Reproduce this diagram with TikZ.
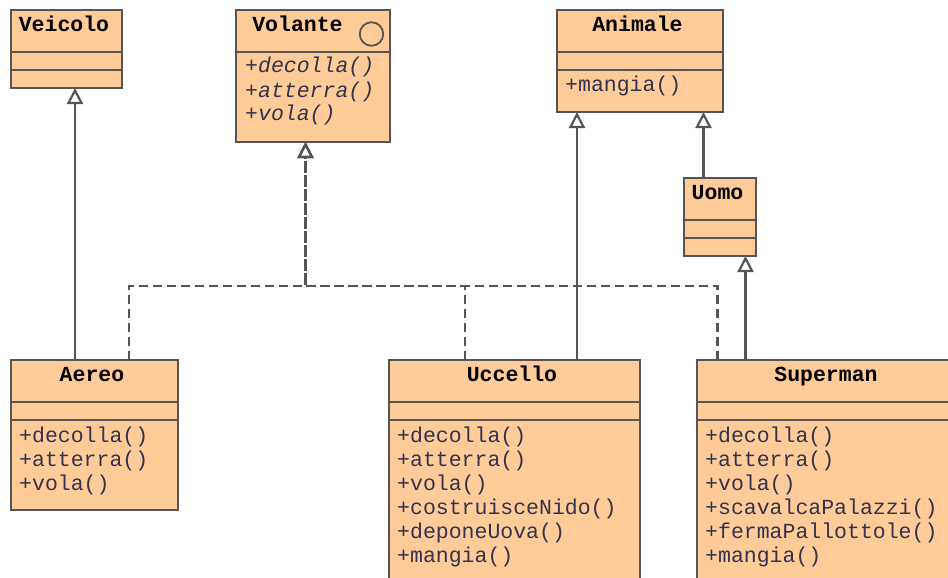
\documentclass[tikz,border=0pt]{standalone}
\usepackage{fontspec}
\setmonofont{Liberation Mono}
\usetikzlibrary{arrows.meta}
\definecolor{boxfill}{RGB}{255,204,153}
\definecolor{boxline}{RGB}{85,85,85}
\definecolor{methcol}{RGB}{51,51,77}
\newcommand\umlbox[5]{%
  \node[classbox, minimum width={(#4-#2)*1pt}, minimum height={(#5-#3)*1pt}] (#1) at (#2,#3) {};}
\newcommand\umlsep[2]{%
  \draw[boxedge] (#1.west |- 0,#2) -- (#1.east |- 0,#2);}
\begin{document}
\begin{tikzpicture}[x=1pt,y=-1pt,
  classbox/.style={draw=boxline, fill=boxfill, line width=2.2pt, rectangle, inner sep=0pt, outer sep=0pt, anchor=north west},
  boxedge/.style={draw=boxline, line width=2.2pt},
  ttl/.style={font=\ttfamily\bfseries\fontsize{21.5}{24}\selectfont, text=black, inner sep=0pt, anchor=base},
  meth/.style={font=\ttfamily\fontsize{21.5}{24}\selectfont, text=methcol, inner sep=0pt, anchor=base west},
  imeth/.style={meth, font=\ttfamily\itshape\fontsize{21.5}{24}\selectfont},
  inh/.style={draw=boxline, line width=2.2pt, -{Triangle[open, length=16pt, width=16pt]}},
  real/.style={draw=boxline, line width=2.2pt, dash pattern=on 9pt off 5pt, -{Triangle[open, length=16pt, width=16pt]}}
]
\useasboundingbox (0,0) rectangle (948,578);
\clip (0,0) rectangle (948,578);

% Veicolo
\umlbox{veicolo}{11}{10}{122}{88}
\umlsep{veicolo}{52}
\umlsep{veicolo}{70}
\node[ttl] (veicolo-t) at (64,31.5) {Veicolo};

% Volante
\umlbox{volante}{236}{10}{390}{142}
\umlsep{volante}{52}
\node[ttl] (volante-t) at (297.5,31.5) {Volante};
\node[draw=boxline, line width=1.8pt, circle, minimum size=23.5pt, inner sep=0pt] (volante-i) at (371.5,34) {};
\foreach \t [count=\i] in {+decolla(),+atterra(),+vola()}
  \node[imeth] (volante-m\i) at (245,{73+24*(\i-1)}) {\t};

% Animale
\umlbox{animale}{557}{10}{723}{112}
\umlsep{animale}{52}
\umlsep{animale}{70}
\node[ttl] (animale-t) at (637.5,31.5) {Animale};
\node[meth] (animale-m1) at (565,92) {+mangia()};

% Uomo
\umlbox{uomo}{684}{178}{756}{256}
\umlsep{uomo}{220}
\umlsep{uomo}{238}
\node[ttl] (uomo-t) at (717.5,199.5) {Uomo};

% Aereo
\umlbox{aereo}{11}{360}{178}{510}
\umlsep{aereo}{402}
\umlsep{aereo}{420}
\node[ttl] (aereo-t) at (92,381) {Aereo};
\foreach \t [count=\i] in {+decolla(),+atterra(),+vola()}
  \node[meth] (aereo-m\i) at (19,{442+24*(\i-1)}) {\t};

% Uccello
\umlbox{uccello}{389}{360}{640}{600}
\umlsep{uccello}{402}
\umlsep{uccello}{420}
\node[ttl] (uccello-t) at (512,381) {Uccello};
\foreach \t [count=\i] in {+decolla(),+atterra(),+vola(),+costruisceNido(),+deponeUova(),+mangia()}
  \node[meth] (uccello-m\i) at (397,{442+24*(\i-1)}) {\t};

% Superman
\umlbox{superman}{697}{360}{960}{600}
\umlsep{superman}{402}
\umlsep{superman}{420}
\node[ttl] (superman-t) at (826,381) {Superman};
\foreach \t [count=\i] in {+decolla(),+atterra(),+vola(),+scavalcaPalazzi(),+fermaPallottole(),+mangia()}
  \node[meth] (superman-m\i) at (705,{442+24*(\i-1)}) {\t};

% Generalizations
\draw[inh] (aereo.north -| 75,0) -- (veicolo.south -| 75,0);
\draw[inh] (uccello.north -| 577,0) -- (animale.south -| 577,0);
\draw[inh] (uomo.north -| 703.5,0) -- (animale.south -| 703.5,0);
\draw[inh] (superman.north -| 745.5,0) -- (uomo.south -| 745.5,0);

% Realizations
\coordinate (junction) at (305.5,286);
\draw[real] (aereo.north -| 129,0) |- (junction) -- (volante.south -| junction);
\draw[real] (uccello.north -| 465,0) |- (junction) -- (volante.south -| junction);
\draw[real] (superman.north -| 717.5,0) |- (junction) -- (volante.south -| junction);
\end{tikzpicture}
\end{document}
